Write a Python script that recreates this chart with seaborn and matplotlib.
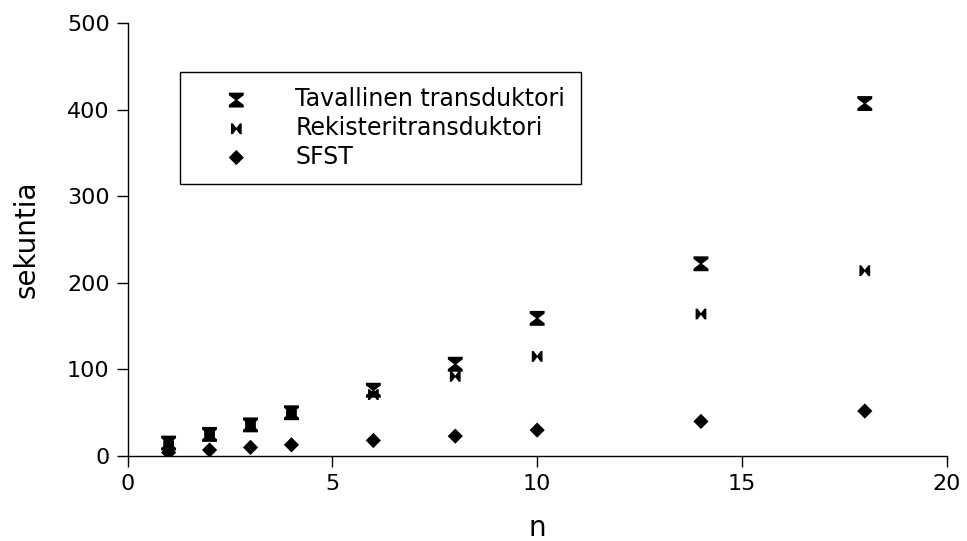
import numpy as np
import pandas as pd
import seaborn as sns
import matplotlib.pyplot as plt
from matplotlib.path import Path

# Data
n = [1, 2, 3, 4, 6, 8, 10, 14, 18]
tavallinen = [15, 25, 36, 50, 76, 106, 159, 222, 407]
rekisteri = [12, 23, 35, 48, 71, 92, 115, 164, 214]
sfst = [4, 7, 10, 13, 18, 23, 30, 40, 52]
labels = ['Tavallinen transduktori', 'Rekisteritransduktori', 'SFST']

# Custom hourglass / bowtie markers
hour_verts = [(-1, 1), (1, 1), (1, 0.65), (0.15, 0), (1, -0.65), (1, -1),
              (-1, -1), (-1, -0.65), (-0.15, 0), (-1, 0.65), (-1, 1)]
hourglass = Path(hour_verts, closed=True)
bowtie = Path([(y, x) for x, y in hour_verts], closed=True)

sns.set_style('ticks')
plt.rcParams['font.family'] = ['DejaVu Sans']
plt.rcParams['text.color'] = 'black'
plt.rcParams['axes.labelcolor'] = 'black'

fig = plt.figure(figsize=(9.67, 5.41), dpi=100)
ax = fig.add_axes([0.132, 0.157, 0.847, 0.8005])

series = [(tavallinen, hourglass, 115), (rekisteri, bowtie, 60), (sfst, 'D', 60)]
for (vals, mk, sz), lab in zip(series, labels):
    df = pd.DataFrame({'n': n, 'sek': vals})
    sns.scatterplot(data=df, x='n', y='sek', marker=mk, s=sz, color='black',
                    edgecolor='none', label=lab, ax=ax)

ax.set_xlim(0, 20)
ax.set_ylim(0, 500)
ax.set_xticks([0, 5, 10, 15, 20])
ax.set_yticks([0, 100, 200, 300, 400, 500])
ax.tick_params(labelsize=16, length=8, width=1, pad=5, colors='black', direction='out')
ax.set_xlabel('n', fontsize=20, labelpad=14)
ax.set_ylabel('sekuntia', fontsize=20, labelpad=19)
sns.despine(ax=ax)
for sp in ['left', 'bottom']:
    ax.spines[sp].set_color('black')
    ax.spines[sp].set_linewidth(1)

leg = ax.legend(loc='upper left', bbox_to_anchor=(0.0635, 0.887), borderaxespad=0,
                fontsize=17, fancybox=False, edgecolor='black', framealpha=1,
                handlelength=3.5, handletextpad=0.75, borderpad=0.65, labelspacing=0.2)
leg.get_frame().set_linewidth(1)
for t in leg.get_texts():
    t.set_color('black')

fig.savefig('out.png', dpi=100)
